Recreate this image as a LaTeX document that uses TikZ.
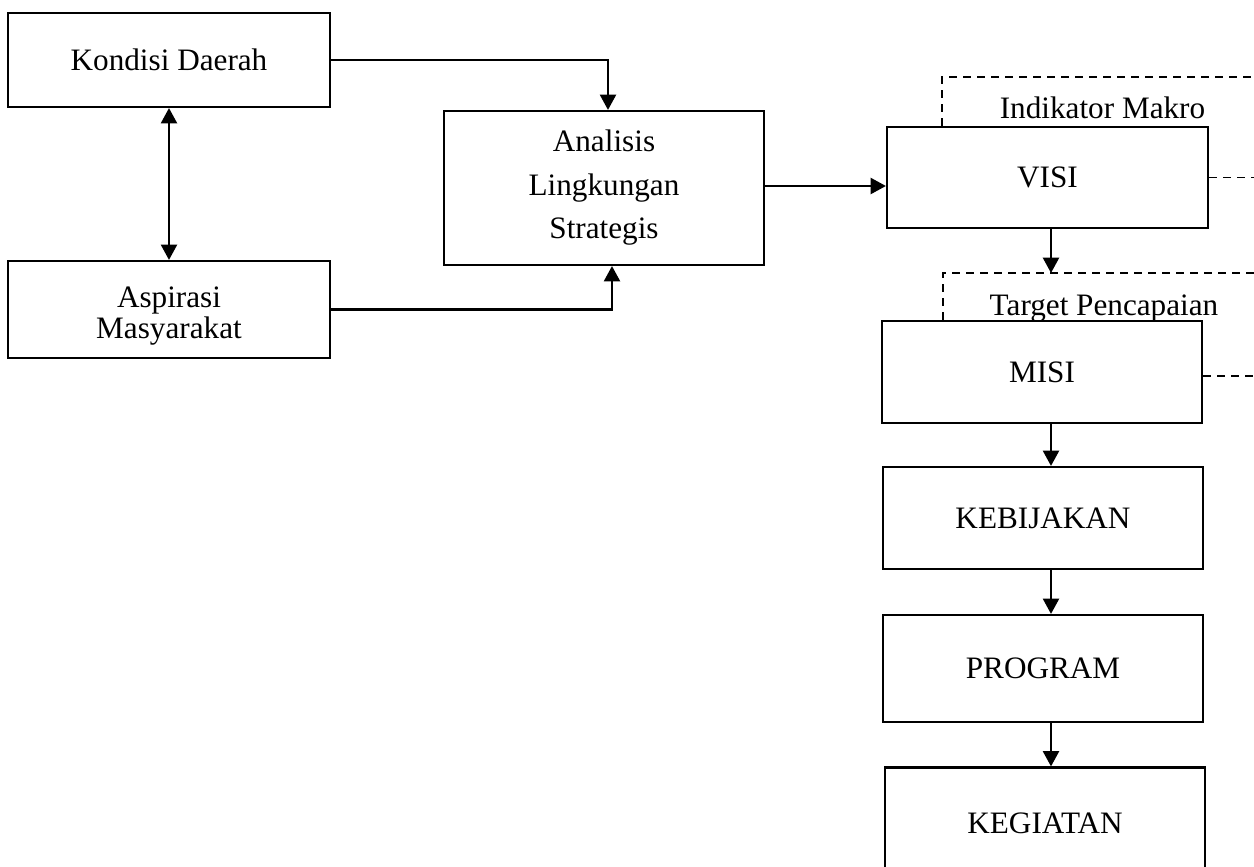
\documentclass[tikz,border=0pt]{standalone}
\usepackage{fontspec}
\setmainfont{Liberation Serif}
\usetikzlibrary{arrows.meta,calc}
\begin{document}
\begin{tikzpicture}[x=0.75pt,y=-0.75pt,
  box/.style={draw,line width=1.6pt,rectangle,inner sep=0pt,align=center,font=\fontsize{23.4}{32.6}\selectfont},
  arr/.style={line width=1.8pt,-{Triangle[length=11.5pt,width=12pt]}},
  darr/.style={line width=1.8pt,{Triangle[length=11.5pt,width=12pt]}-{Triangle[length=11.5pt,width=12pt]}},
  dsh/.style={line width=1.2pt,dash pattern=on 6pt off 4.5pt},
  lbl/.style={font=\fontsize{23.4}{28}\selectfont,inner sep=0pt,anchor=base}]
\useasboundingbox (0,0) rectangle (1254,867);
\clip (0,0) rectangle (1254,867);
% boxes
\node[box,minimum width=241.5pt,minimum height=70.5pt] (kondisi) at (169,60) {Kondisi Daerah};
\node[box,minimum width=241.5pt,minimum height=72.75pt] (aspirasi) at (169,309.5) {};
\node[align=center,inner sep=0pt,font=\fontsize{23.4}{23.6}\selectfont] (aspirasitext) at (169,316) {Aspirasi\\Masyarakat};
\node[box,minimum width=240pt,minimum height=115.5pt] (analisis) at (604,188) {Analisis\\Lingkungan\\Strategis};
\node[box,minimum width=240.75pt,minimum height=75.75pt] (visi) at (1047.5,177.5) {VISI};
\node[box,minimum width=240pt,minimum height=76.5pt] (misi) at (1042,372) {MISI};
\node[box,minimum width=240pt,minimum height=76.5pt] (kebijakan) at (1043,518) {KEBIJAKAN};
\node[box,minimum width=240pt,minimum height=80.25pt] (program) at (1043,668.5) {PROGRAM};
\node[box,minimum width=240pt,minimum height=84pt] (kegiatan) at (1045,823.5) {KEGIATAN};
% labels
\node[lbl] (indikator) at (1102.5,118) {Indikator Makro};
\node[lbl] (target) at (1104,315) {Target Pencapaian};
% helper coordinates
\coordinate (col) at (1051,0);
\coordinate (d1a) at (942,77);
\coordinate (d1b) at (1254,77);
\coordinate (d2a) at (943,273);
\coordinate (d2b) at (1254,273);
\coordinate (right) at (1254,0);
\coordinate (aout) at ($(analisis.east)+(0,-2)$);
\coordinate (mout) at ($(misi.east)+(0,4)$);
% connectors
\draw[arr] (kondisi.east) -| ($(analisis.north)+(4,0)$);
\draw[arr] (aspirasi.east) -| ($(analisis.south)+(8,0)$);
\draw[darr] (kondisi.south) -- (aspirasi.north);
\draw[arr] (aout) -- (aout -| visi.west);
\draw[arr] (visi.south -| col) -- (d2a -| col);
\draw[arr] (misi.south -| col) -- (kebijakan.north -| col);
\draw[arr] (kebijakan.south -| col) -- (program.north -| col);
\draw[arr] (program.south -| col) -- (kegiatan.north -| col);
% dashed frames
\draw[dsh] (visi.north -| d1a) -- (d1a) -- (d1b);
\draw[dsh] (visi.east) -- (visi.east -| right);
\draw[dsh] (misi.north -| d2a) -- (d2a) -- (d2b);
\draw[dsh] (mout) -- (mout -| right);
\end{tikzpicture}
\end{document}
